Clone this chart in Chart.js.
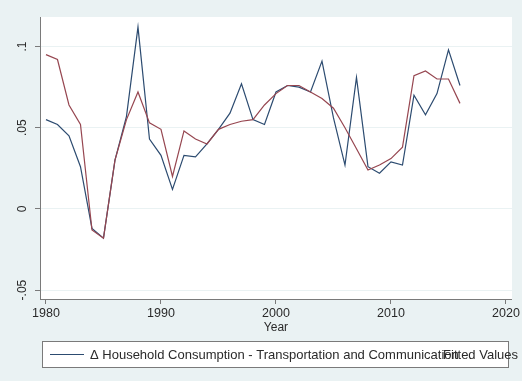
<!DOCTYPE html>
<html>
<head>
<meta charset="utf-8">
<script src="https://cdn.jsdelivr.net/npm/chart.js@4.4.1/dist/chart.umd.min.js"></script>
<style>
  html, body { margin: 0; padding: 0; background: #eaf2f3; }
  #wrap { width: 522px; height: 381px; }
</style>
</head>
<body>
<div id="wrap"><canvas id="chart" width="522" height="381"></canvas></div>
<script>
// years 1980..2016
const years = [1980, 1981, 1982, 1983, 1984, 1985, 1986, 1987, 1988, 1989,
  1990, 1991, 1992, 1993, 1994, 1995, 1996, 1997, 1998, 1999,
  2000, 2001, 2002, 2003, 2004, 2005, 2006, 2007, 2008, 2009,
  2010, 2011, 2012, 2013, 2014, 2015, 2016];

const consumption = [0.055, 0.052, 0.045, 0.026, -0.012, -0.018, 0.030, 0.057, 0.112, 0.043,
  0.033, 0.012, 0.033, 0.032, 0.040, 0.049, 0.059, 0.077, 0.055, 0.052,
  0.072, 0.076, 0.075, 0.072, 0.091, 0.056, 0.027, 0.081, 0.026, 0.022,
  0.029, 0.027, 0.070, 0.058, 0.071, 0.098, 0.076];

const fitted = [0.095, 0.092, 0.064, 0.052, -0.013, -0.018, 0.030, 0.055, 0.072, 0.053,
  0.049, 0.020, 0.048, 0.043, 0.040, 0.049, 0.052, 0.054, 0.055, 0.064,
  0.071, 0.076, 0.076, 0.072, 0.068, 0.062, 0.050, 0.037, 0.024, 0.027,
  0.031, 0.038, 0.082, 0.085, 0.080, 0.080, 0.065];

const xTicks = [1980, 1990, 2000, 2010, 2020];
const yTicks = [-0.05, 0, 0.05, 0.1];
const yTickLabels = ["-.05", "0", ".05", ".1"];

const seriesLabel = "\u0394 Household Consumption - Transportation and Communication";
const fittedLabel = "Fitted Values";

const NAVY = "#2c4b70";
const MAROON = "#964650";
const FONT = "'Liberation Sans', Arial, sans-serif";

// stata-ish backdrop, rotated y labels and the overlapping legend
const stataLook = {
  id: "stataLook",
  beforeDraw(chart) {
    const { ctx, chartArea: a } = chart;
    ctx.save();
    ctx.fillStyle = "#eaf2f3";
    ctx.fillRect(0, 0, chart.width, chart.height);
    ctx.fillStyle = "#ffffff";
    ctx.fillRect(a.left, a.top, a.right - a.left, a.bottom - a.top);
    ctx.restore();
  },
  afterDraw(chart) {
    const { ctx } = chart;
    const y = chart.scales.y;
    ctx.save();
    ctx.fillStyle = "#2a2a2a";
    ctx.font = "12px " + FONT;
    ctx.textAlign = "center";
    ctx.textBaseline = "middle";
    y.ticks.forEach((t) => {
      const py = y.getPixelForValue(t.value);
      ctx.save();
      ctx.translate(23, py);
      ctx.rotate(-Math.PI / 2);
      ctx.fillText(yTickLabels[yTicks.indexOf(t.value)] ?? "", 0, 0);
      ctx.restore();
    });

    // legend (labels run into each other, as in the original)
    ctx.fillStyle = "#ffffff";
    ctx.fillRect(42.5, 341.5, 466, 26);
    ctx.strokeStyle = "#7a7a7a";
    ctx.lineWidth = 1;
    ctx.strokeRect(42.5, 341.5, 466, 26);
    ctx.strokeStyle = NAVY;
    ctx.lineWidth = 1.2;
    ctx.beginPath();
    ctx.moveTo(50, 354.5);
    ctx.lineTo(84, 354.5);
    ctx.stroke();
    ctx.fillStyle = "#2a2a2a";
    ctx.font = "13px " + FONT;
    ctx.textAlign = "left";
    ctx.fillText(seriesLabel, 90, 355);
    const w = ctx.measureText(fittedLabel).width;
    ctx.fillText(fittedLabel, 518 - w, 355);
    ctx.restore();
  }
};

new Chart(document.getElementById("chart"), {
  type: "line",
  data: {
    datasets: [
      {
        label: seriesLabel,
        data: years.map((yr, i) => ({ x: yr, y: consumption[i] })),
        borderColor: NAVY,
        borderWidth: 1.2,
        pointRadius: 0,
        tension: 0,
        order: 1
      },
      {
        label: fittedLabel,
        data: years.map((yr, i) => ({ x: yr, y: fitted[i] })),
        borderColor: MAROON,
        borderWidth: 1.2,
        pointRadius: 0,
        tension: 0,
        order: 0
      }
    ]
  },
  options: {
    responsive: false,
    animation: false,
    layout: { padding: { top: 17, right: 9, left: 0, bottom: 0 } },
    plugins: { legend: { display: false }, tooltip: { enabled: false } },
    scales: {
      x: {
        type: "linear",
        min: 1979.48,
        max: 2020.52,
        afterBuildTicks: (s) => { s.ticks = xTicks.map(v => ({ value: v })); },
        afterFit: (s) => { s.height = 82; },
        ticks: {
          autoSkip: false,
          maxRotation: 0,
          padding: 2,
          color: "#2a2a2a",
          font: { family: FONT, size: 12.5 },
          callback: (v) => String(v)
        },
        grid: { drawOnChartArea: false, drawTicks: true, tickLength: 5, tickColor: "#7a7a7a" },
        border: { display: true, color: "#7a7a7a", width: 1 },
        title: {
          display: true,
          text: "Year",
          color: "#2a2a2a",
          font: { family: FONT, size: 12 },
          padding: { top: 0, bottom: 46 }
        }
      },
      y: {
        min: -0.0555,
        max: 0.1182,
        afterBuildTicks: (s) => { s.ticks = yTicks.map(v => ({ value: v })); },
        afterFit: (s) => { s.width = 40; },
        ticks: { display: false },
        grid: { color: "#eaf2f3", lineWidth: 1, drawTicks: true, tickLength: 5, tickColor: "#7a7a7a" },
        border: { display: true, color: "#7a7a7a", width: 1 }
      }
    }
  },
  plugins: [stataLook]
});
</script>
</body>
</html>
